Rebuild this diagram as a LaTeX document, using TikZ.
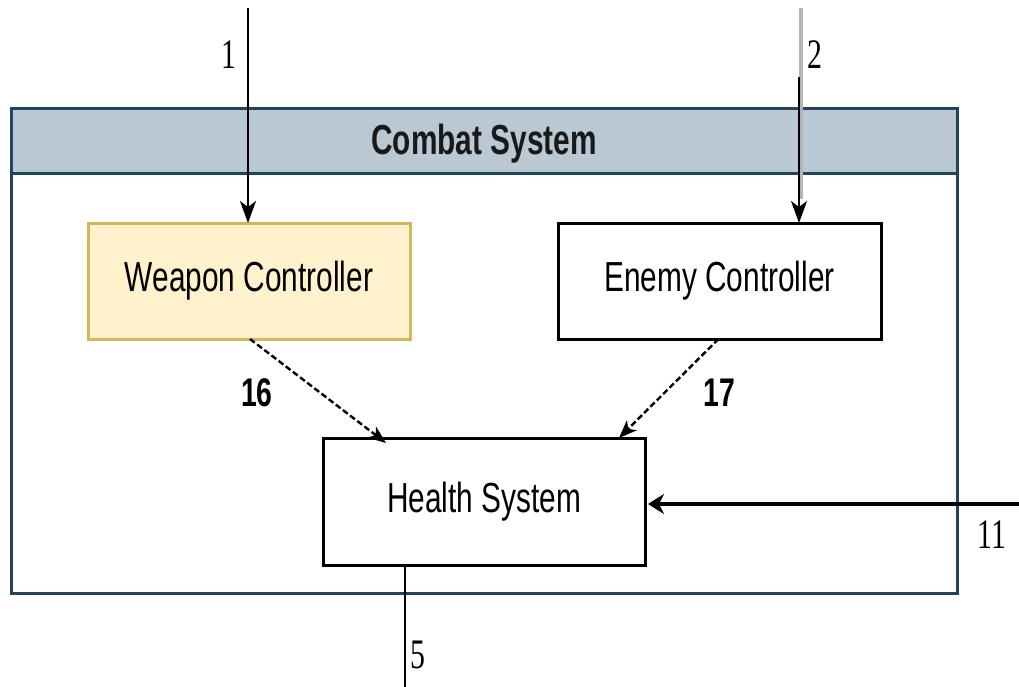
\documentclass[tikz,border=0pt]{standalone}
\usepackage{fontspec}
\usepackage{graphicx}
\setmainfont{Liberation Sans}
\newfontfamily\numserif{Liberation Serif}
\usetikzlibrary{arrows.meta,calc}

\definecolor{frameblue}{HTML}{23445D}
\definecolor{headfill}{HTML}{BAC8D3}
\definecolor{weaponfill}{HTML}{FFF2CC}
\definecolor{weaponline}{HTML}{D6B656}
\definecolor{feedgray}{HTML}{B4B4B4}

% narrow, tall lettering
\newcommand{\narrow}[1]{\scalebox{0.71}[1]{#1}}

\tikzset{
  x=1pt, y=-1pt,
  every node/.style={inner sep=0pt, outer sep=0pt},
  boxtext/.style={font=\fontsize{42}{48}\selectfont},
  unitbox/.style={draw=black, line width=3pt, fill=white, boxtext},
  weaponbox/.style={draw=weaponline, line width=3pt, fill=weaponfill, boxtext},
  framebox/.style={draw=frameblue, line width=3pt, minimum width=946pt, minimum height=484pt},
  headbox/.style={draw=frameblue, line width=3pt, fill=headfill, minimum width=946pt, minimum height=65pt},
  headtext/.style={font=\fontsize{42}{48}\selectfont\bfseries, text=black!90},
  flow/.style={draw=black, line width=2pt, -{Stealth[length=22pt,width=16pt,inset=6pt]}},
  dashflow/.style={draw=black, line width=2.4pt, dash pattern=on 6pt off 3pt,
                   -{Stealth[length=18pt,width=14pt,inset=5pt]}},
  heavyflow/.style={draw=black, line width=4pt, -{Stealth[length=16pt,width=20pt,inset=5pt]}},
  plain/.style={draw=black, line width=2pt},
  numlabel/.style={font=\fontsize{42}{48}\selectfont\numserif},
  boldlabel/.style={font=\fontsize{40}{46}\selectfont\bfseries},
}

\begin{document}
\begin{tikzpicture}
  \useasboundingbox (0,0) rectangle (1019,687);
  \fill[white] (0,0) rectangle (1019,687);

  % container and its title bar
  \node[framebox] (cs) at (484,351) {};
  \node[headbox] (head) at (484,141.5) {};
  \node[headtext] (title) at (484,144) {\narrow{Combat System}};

  % components
  \node[weaponbox, minimum width=322pt, minimum height=116pt] (wc) at (249,281) {\narrow{Weapon Controller}};
  \node[unitbox, minimum width=323pt, minimum height=116pt] (ec) at (719.5,281) {\narrow{Enemy Controller}};
  \node[unitbox, minimum width=322pt, minimum height=127pt] (hs) at (484,501.5) {\narrow{Health System}};

  % incoming flows from outside
  \coordinate (s1) at (248,8);
  \draw[flow] (s1) -- (s1 |- wc.north);

  \coordinate (s2) at (801,8);
  \coordinate (m2) at (799,77);
  \draw[feedgray, line width=4pt] (s2) -- ([yshift=24pt]s2 |- ec.north);
  \draw[flow] (m2) -- (m2 |- ec.north);

  \coordinate (s11) at (1019,504);
  \draw[heavyflow] (s11) -- ([xshift=3pt]hs.east |- s11);

  % internal flows
  \draw[dashflow] ([xshift=1pt]wc.south) -- ([xshift=63pt,yshift=-5pt]hs.north west);
  \draw[dashflow] ([xshift=-1pt]ec.south) -- ([xshift=-26pt]hs.north east);

  % outgoing flow
  \coordinate (e5) at (405,687);
  \draw[plain] ([xshift=-79pt]hs.south) -- (e5);

  % flow numbers
  \node[numlabel] (l1) at (229,55) {\narrow{1}};
  \node[numlabel] (l2) at (815,55) {\narrow{2}};
  \node[boldlabel] (l16) at (257,393) {\narrow{16}};
  \node[boldlabel] (l17) at (719,393) {\narrow{17}};
  \node[numlabel] (l11) at (992,535) {\narrow{11}};
  \node[numlabel] (l5) at (418,655) {\narrow{5}};
\end{tikzpicture}
\end{document}
